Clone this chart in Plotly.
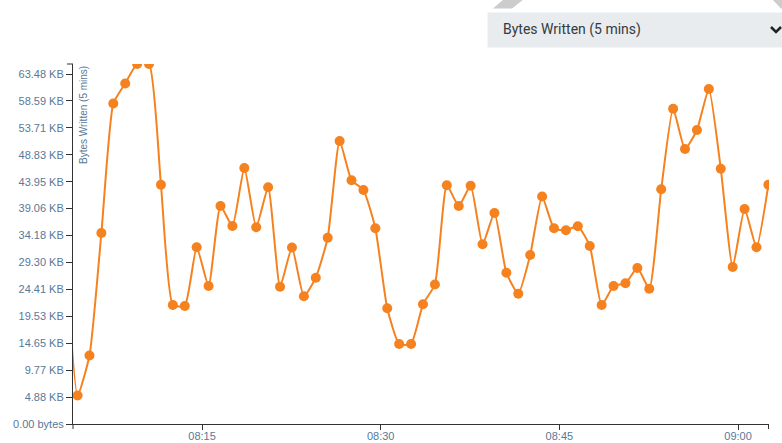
import plotly.graph_objects as go
import pandas as pd

# ---- data (bytes written per 5-min window, sampled each minute) ----
start_time = "2024-01-01 08:03:33"
bytes_written = [
    32000, 5300, 12720, 35470, 59520, 63240, 66857, 66857, 44440, 22100,
    21910, 32820, 25630, 40490, 36770, 47540, 36530, 43960, 25500, 32780,
    23720, 27170, 34600, 52560, 45260, 43460, 36340, 21490, 14860, 14860,
    22230, 25910, 44330, 40490, 44260, 33370, 39190, 28100, 24200, 31390,
    42250, 36340, 35970, 36720, 33060, 22100, 25630, 26130, 28970, 25130,
    43590, 58560, 51070, 54600, 62210, 47410, 29160, 39930, 32820, 44440,
]
times = pd.date_range(start_time, periods=len(bytes_written), freq="1min")

y_tick_vals = [0, 5000, 10000, 15000, 20000, 25000, 30000, 35000, 40000,
               45000, 50000, 55000, 60000, 65000]
y_tick_text = ["0.00 bytes", "4.88 KB", "9.77 KB", "14.65 KB", "19.53 KB",
               "24.41 KB", "29.30 KB", "34.18 KB", "39.06 KB", "43.95 KB",
               "48.83 KB", "53.71 KB", "58.59 KB", "63.48 KB"]
x_tick_vals = ["2024-01-01 08:15", "2024-01-01 08:30",
               "2024-01-01 08:45", "2024-01-01 09:00"]
x_tick_text = ["08:15", "08:30", "08:45", "09:00"]
x_range = ["2024-01-01 08:04:10", "2024-01-01 09:02:36"]
y_range = [0, 66857]

metric_label = "Bytes Written (5 mins)"

# ---- layout geometry ----
W, H = 782, 443
ML, MR, MT, MB = 73, 13, 64, 19
PW, PH = W - ML - MR, H - MT - MB


def px(x):
    return (x - ML) / PW


def py(y):
    return (H - MB - y) / PH


ORANGE = "#f5821f"
TICKCOL = "#5a7898"
AXCOL = "#333333"

fig = go.Figure()
fig.add_trace(go.Scatter(
    x=times, y=bytes_written, mode="lines+markers",
    line=dict(color=ORANGE, width=2, shape="spline", smoothing=0.5),
    marker=dict(color=ORANGE, size=10),
    hoverinfo="skip", showlegend=False,
))

fig.update_layout(
    width=W, height=H,
    margin=dict(l=ML, r=MR, t=MT, b=MB, pad=0, autoexpand=False),
    paper_bgcolor="white", plot_bgcolor="white",
    font=dict(family="Liberation Sans, Arial, sans-serif", size=11, color=TICKCOL),
    xaxis=dict(
        range=x_range, tickvals=x_tick_vals, ticktext=x_tick_text,
        showgrid=False, zeroline=False, showline=True, linecolor=AXCOL,
        linewidth=1, ticks="outside", ticklen=5, tickcolor=AXCOL,
        tickfont=dict(size=11, color=TICKCOL), fixedrange=True,
        automargin=False, ticklabelstandoff=-3,
    ),
    yaxis=dict(
        range=y_range, tickvals=y_tick_vals, ticktext=y_tick_text,
        showgrid=False, zeroline=False, showline=True, linecolor=AXCOL,
        linewidth=1, ticks="outside", ticklen=6, tickcolor=AXCOL,
        tickfont=dict(size=11, color=TICKCOL), fixedrange=True,
        automargin=False,
    ),
    shapes=[
        # outer ticks of the axis domains
        dict(type="line", xref="paper", yref="paper",
             x0=px(67), x1=px(73), y0=py(64), y1=py(64),
             line=dict(color=AXCOL, width=1)),
        dict(type="line", xref="paper", yref="paper",
             x0=px(73), x1=px(73), y0=py(424), y1=py(429),
             line=dict(color=AXCOL, width=1)),
        dict(type="line", xref="paper", yref="paper",
             x0=px(768.5), x1=px(768.5), y0=py(424), y1=py(429),
             line=dict(color=AXCOL, width=1)),
        # decorative grey bands at top
        dict(type="path", xref="paper", yref="paper",
             path=f"M {px(493)},{py(8.5)} L {px(512)},{py(8.5)} L {px(524)},{py(-1)} L {px(504)},{py(-1)} Z",
             fillcolor="#cccccc", line=dict(width=0)),
        dict(type="path", xref="paper", yref="paper",
             path=f"M {px(772)},{py(-1)} L {px(785)},{py(-1)} L {px(785)},{py(8.5)} L {px(781)},{py(8.5)} Z",
             fillcolor="#cccccc", line=dict(width=0)),
        # dropdown box
        dict(type="rect", xref="paper", yref="paper",
             x0=px(487.5), x1=px(790), y0=py(47.5), y1=py(12.5),
             fillcolor="#e9ecef", line=dict(width=0)),
        # chevron
        dict(type="path", xref="paper", yref="paper",
             path=f"M {px(771)},{py(27)} L {px(776)},{py(32)} L {px(781)},{py(27)}",
             line=dict(color="#222222", width=2.5)),
    ],
    annotations=[
        dict(text=metric_label, xref="paper", yref="paper",
             x=px(501), y=py(30), xanchor="left", yanchor="middle",
             showarrow=False,
             font=dict(family="Roboto, sans-serif", size=14, color="#343a40")),
        dict(text=metric_label, xref="paper", yref="paper",
             x=px(83), y=py(64), xanchor="center", yanchor="top",
             textangle=-90, showarrow=False,
             font=dict(family="Liberation Sans, Arial, sans-serif", size=10, color=TICKCOL)),
    ],
)

fig.write_html("out.html", config={"displayModeBar": False},
               post_script="document.body.style.margin='0';document.body.style.overflow='hidden';")
